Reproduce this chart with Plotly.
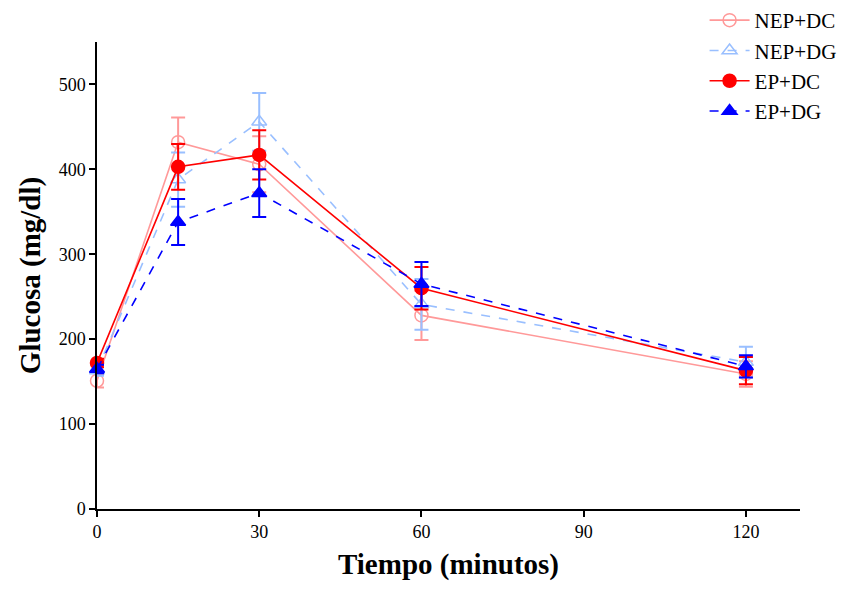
import plotly.graph_objects as go

tiempo = [0, 15, 30, 60, 120]

nep_dc = [151, 432, 406, 228, 159]
nep_dc_err = [8, 29, 33, 29, 15]

nep_dg = [163, 388, 456, 241, 173]
nep_dg_err = [6, 32, 34, 30, 18]

ep_dc = [172, 403, 417, 260, 163]
ep_dc_err = [5, 27, 29, 25, 16]

ep_dg = [165, 338, 372, 265, 168]
ep_dg_err = [5, 27, 28, 26, 13]

series = [
    ("NEP+DC", nep_dc, nep_dc_err, "#FF9999", "circle-open", "solid"),
    ("NEP+DG", nep_dg, nep_dg_err, "#99BFFF", "triangle-up-open", "dash"),
    ("EP+DC", ep_dc, ep_dc_err, "#FF0000", "circle", "solid"),
    ("EP+DG", ep_dg, ep_dg_err, "#0000FF", "triangle-up", "dash"),
]

fig = go.Figure()
for name, y, err, color, symbol, dash in series:
    fig.add_trace(go.Scatter(
        x=tiempo, y=y, name=name, mode="lines+markers",
        line=dict(color=color, width=1.6, dash=dash),
        marker=dict(color=color, symbol=symbol, size=13,
                    line=dict(color=color, width=1.5)),
        error_y=dict(type="data", array=err, visible=True,
                     color=color, thickness=2, width=7),
        cliponaxis=False,
    ))

font_family = "Liberation Serif"
fig.update_layout(
    width=853, height=589,
    margin=dict(l=97, r=53, t=42, b=80, autoexpand=False),
    paper_bgcolor="white", plot_bgcolor="white",
    font=dict(family=font_family, color="black", size=18),
    showlegend=True,
    legend=dict(x=0.826, y=1.008, xref="container", yref="container",
                xanchor="left", yanchor="top",
                font=dict(family=font_family, size=21, color="black"),
                bgcolor="rgba(0,0,0,0)", tracegroupgap=0, itemwidth=40),
    xaxis=dict(
        range=[0, 130], tickvals=[0, 30, 60, 90, 120],
        showline=True, linecolor="black", linewidth=1.5,
        ticks="outside", ticklen=6, tickwidth=1.5, tickcolor="black",
        showgrid=False, zeroline=False,
        tickfont=dict(family=font_family, size=18),
        title=dict(text="<b>Tiempo (minutos)</b>",
                   font=dict(family=font_family, size=29), standoff=12),
    ),
    yaxis=dict(
        range=[0, 550], tickvals=[0, 100, 200, 300, 400, 500],
        showline=True, linecolor="black", linewidth=1.5,
        ticks="outside", ticklen=6, tickwidth=1.5, tickcolor="black",
        showgrid=False, zeroline=False,
        tickfont=dict(family=font_family, size=18),
        title=dict(text="<b>Glucosa (mg/dl)</b>",
                   font=dict(family=font_family, size=29), standoff=10),
    ),
)

fig.write_html("out.html")
